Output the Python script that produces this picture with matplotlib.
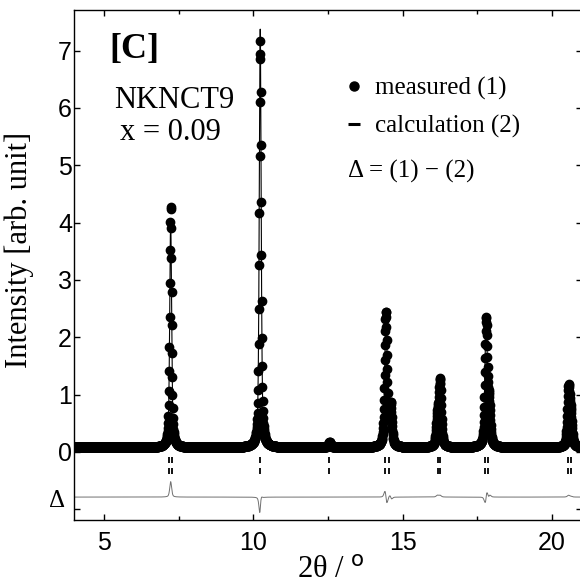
import numpy as np
import matplotlib
matplotlib.use("Agg")
import matplotlib.pyplot as plt
from matplotlib.lines import Line2D

# ---------------- data ----------------
two_theta_min = 4.0
two_theta_max = 21.0
two_theta_step = 0.008
background = 0.075

peak_pos = [7.235, 10.232, 12.55, 14.44, 14.60, 16.16, 16.25, 17.79, 17.89, 20.55, 20.63]
calc_height = [3.95, 7.30, 0.09, 2.35, 0.70, 0.45, 1.10, 2.20, 0.65, 0.98, 0.45]
meas_height = [4.22, 7.09, 0.09, 2.35, 0.70, 0.48, 1.13, 2.20, 0.65, 1.01, 0.46]
peak_fwhm = [0.075, 0.075, 0.10, 0.095, 0.095, 0.095, 0.095, 0.095, 0.095, 0.095, 0.095]
meas_shift = [0.0, 0.0008, 0.0, -0.003, -0.003, 0.0, 0.0, 0.003, 0.003, 0.0, 0.0]
lorentz_fraction = 0.5

refl_row1 = [7.18, 7.28, 10.23, 12.55, 14.41, 14.54, 16.17, 16.24, 17.75, 17.85, 20.54, 20.64]
refl_row2 = [7.18, 7.28, 10.23, 12.55, 14.41, 14.54, 16.17, 16.24, 17.75, 17.85, 20.54, 20.64]
refl_row1_level = -0.14
refl_row2_level = -0.34
diff_offset = -0.79

xticks = [5, 10, 15, 20]
xticks_minor = [7.5, 12.5, 17.5]
yticks = [-1, 0, 1, 2, 3, 4, 5, 6, 7]
yticklabels = ["", "0", "1", "2", "3", "4", "5", "6", "7"]


def pseudo_voigt(x, pos, height, fwhm, eta):
    d = (x - pos) / fwhm
    g = np.exp(-4.0 * np.log(2.0) * d ** 2)
    l = 1.0 / (1.0 + 4.0 * d ** 2)
    return height * (eta * l + (1.0 - eta) * g)


tt = np.arange(two_theta_min, two_theta_max + 1e-9, two_theta_step)
calc = np.full_like(tt, background)
meas = np.full_like(tt, background)
for p, hc, hm, w, s in zip(peak_pos, calc_height, meas_height, peak_fwhm, meas_shift):
    calc += pseudo_voigt(tt, p, hc, w, lorentz_fraction)
    meas += pseudo_voigt(tt, p + s, hm, w, lorentz_fraction)
diff = meas - calc

# ---------------- figure ----------------
W, H = 580, 586
fig = plt.figure(figsize=(W / 100, H / 100), dpi=100)
ax_l, ax_r, ax_t, ax_b = 74, 582, 10, 520
ax = fig.add_axes([ax_l / W, 1 - ax_b / H, (ax_r - ax_l) / W, (ax_b - ax_t) / H])

serif = ["Liberation Serif", "DejaVu Serif"]
sans = ["Liberation Sans", "DejaVu Sans"]
plt.rcParams["mathtext.fontset"] = "custom"
plt.rcParams["mathtext.rm"] = "Liberation Serif"

ax.plot(tt, meas, linestyle="none", marker="o", markersize=6.0,
        color="black", zorder=2)
ax.plot(tt, calc, color="black", linewidth=0.8, zorder=3)
ax.plot(tt, diff + diff_offset, color="#707070", linewidth=0.7, zorder=2)
ax.plot(refl_row1, np.full(len(refl_row1), refl_row1_level), linestyle="none",
        marker="|", markersize=4.8, markeredgewidth=1.3, color="black")
ax.plot(refl_row2, np.full(len(refl_row2), refl_row2_level), linestyle="none",
        marker="|", markersize=4.8, markeredgewidth=1.3, color="black")

ax.set_xlim(two_theta_min, two_theta_max)
ax.set_ylim(-1.19, 7.71)
ax.set_xticks(xticks)
ax.set_xticks(xticks_minor, minor=True)
ax.set_yticks(yticks)
ax.set_yticklabels(yticklabels)
ax.tick_params(which="both", direction="in", top=True, right=True, width=1.0)
ax.tick_params(which="major", length=4.3)
ax.tick_params(which="minor", length=2.6)
ax.tick_params(axis="x", which="major", pad=8.0)
ax.tick_params(axis="y", which="major", pad=1.5)
for lab in ax.get_xticklabels() + ax.get_yticklabels():
    lab.set_fontfamily(sans)
    lab.set_fontsize(18)
for sp in ax.spines.values():
    sp.set_linewidth(1.0)

ax.set_xlabel("2θ / $^{\\mathrm{o}}$", fontfamily=serif, fontsize=22)
ax.xaxis.label.set_va("baseline")
ax.xaxis.set_label_coords((330.5 - ax_l) / (ax_r - ax_l), (ax_b - 578) / (ax_b - ax_t))
ax.set_ylabel("Intensity [arb. unit]", fontfamily=serif, fontsize=22)
ax.yaxis.label.set_va("center")
ax.yaxis.set_label_coords((19 - ax_l) / (ax_r - ax_l), (ax_b - 250) / (ax_b - ax_t))


def figpos(px, py):
    return px / W, 1 - py / H


fig.text(*figpos(109, 58), "[C]", fontfamily=serif, fontsize=26, fontweight="bold",
         ha="left", va="baseline")
fig.text(*figpos(114, 108), "NKNCT9", fontfamily=serif, fontsize=22,
         ha="left", va="baseline")
fig.text(*figpos(120, 140), "x = 0.09", fontfamily=serif, fontsize=22,
         ha="left", va="baseline")
fig.text(*figpos(348, 178), "Δ = (1) − (2)", fontfamily=serif, fontsize=18,
         ha="left", va="baseline")
fig.text(*figpos(65, 507), "Δ", fontfamily=serif, fontsize=18,
         ha="right", va="baseline")

handles = [Line2D([], [], linestyle="none", marker="o", markersize=6.5, color="black"),
           Line2D([], [], linestyle="none", marker="_", markersize=8.5,
                  markeredgewidth=2.2, color="black")]
leg = ax.legend(handles, ["measured (1)", "calculation (2)"],
                loc="upper left", bbox_to_anchor=figpos(344, 77),
                bbox_transform=fig.transFigure, frameon=False,
                prop={"family": serif, "size": 18}, handlelength=0.8,
                handletextpad=0.45, labelspacing=0.6, borderpad=0,
                borderaxespad=0)

fig.savefig("out.png", dpi=100)
